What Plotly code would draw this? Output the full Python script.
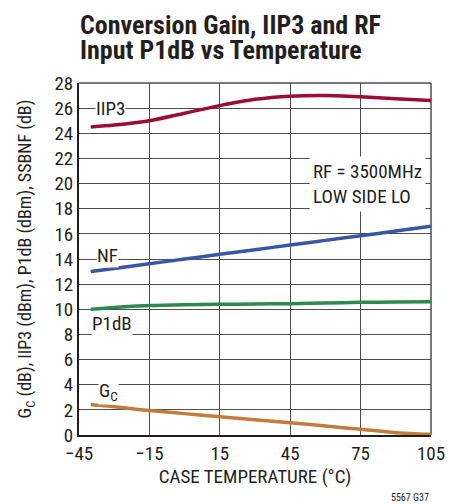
import plotly.graph_objects as go

temps = [-40, -30, -15, 0, 15, 30, 45, 60, 75, 90, 105]
iip3 = [24.5, 24.65, 25.0, 25.6, 26.2, 26.7, 26.95, 27.0, 26.9, 26.75, 26.6]
nf = [13.0, 13.25, 13.62, 14.0, 14.37, 14.74, 15.11, 15.48, 15.85, 16.22, 16.6]
p1db = [10.0, 10.15, 10.3, 10.37, 10.4, 10.42, 10.45, 10.5, 10.55, 10.58, 10.6]
gc = [2.4, 2.25, 1.95, 1.7, 1.46, 1.22, 0.98, 0.72, 0.45, 0.18, 0.05]

x_ticks = [-45, -15, 15, 45, 75, 105]
x_labels = ["\u221245", "\u221215", "15", "45", "75", "105"]
y_ticks = list(range(0, 29, 2))

FONT = "Liberation Sans Narrow, Roboto Condensed, Arial Narrow, Liberation Sans, sans-serif"
INK = "#231f20"
GRID = "#4d4d4d"

fig = go.Figure()
series = [
    (iip3, "#9b0d35", "IIP3"),
    (nf, "#3b55a6", "NF"),
    (p1db, "#2b8a4c", "P1dB"),
    (gc, "#c57b3a", "GC"),
]
for ys, col, name in series:
    fig.add_trace(go.Scatter(x=temps, y=ys, mode="lines", name=name,
                             line=dict(color=col, width=3.5, shape="spline", smoothing=0.8),
                             showlegend=False))

ann_font = dict(family=FONT, size=19, color=INK)
annotations = [
    dict(x=-31.4, y=26, text="IIP3", showarrow=False, bgcolor="white", font=ann_font, borderpad=0),
    dict(x=-33, y=14.25, text="NF", showarrow=False, bgcolor="white", font=ann_font, borderpad=0),
    dict(x=-31, y=8.9, text="P1dB", showarrow=False, bgcolor="white", font=ann_font, borderpad=0),
    dict(x=-32.6, y=3.5, text="G<sub>C</sub>", showarrow=False, bgcolor="white", font=ann_font, borderpad=0),
    dict(x=78, y=20, text="RF = 3500MHz<br>LOW SIDE LO", showarrow=False, bgcolor="white",
         font=ann_font, align="left", borderpad=3),
    dict(xref="paper", yref="paper", x=-0.003, y=1.166, xanchor="left", yanchor="middle",
         text="<b>Conversion Gain, IIP3 and RF</b>", showarrow=False, align="left",
         font=dict(family=FONT, size=26, color=INK)),
    dict(xref="paper", yref="paper", x=-0.003, y=1.095, xanchor="left", yanchor="middle",
         text="<b>Input P1dB vs Temperature</b>", showarrow=False, align="left",
         font=dict(family=FONT, size=26, color=INK)),
    dict(xref="paper", yref="paper", x=1.0, y=-0.178, xanchor="right", yanchor="middle",
         text="5567 G37", showarrow=False, font=dict(family=FONT, size=10, color=INK)),
]

fig.update_layout(
    width=451, height=496,
    margin=dict(l=71, r=28, t=75, b=69),
    paper_bgcolor="white", plot_bgcolor="white",
    annotations=annotations,
    font=dict(family=FONT, size=19, color=INK),
    xaxis=dict(range=[-45, 105], tickvals=x_ticks, ticktext=x_labels,
               showgrid=True, gridcolor=GRID, gridwidth=1,
               showline=True, linecolor=INK, linewidth=2,
               zeroline=False, ticks="",
               title=dict(text="CASE TEMPERATURE (\u00b0C)", font=dict(size=19), standoff=5),
               tickfont=dict(size=19)),
    yaxis=dict(range=[0, 28], tickvals=y_ticks,
               showgrid=True, gridcolor=GRID, gridwidth=1,
               showline=True, linecolor=INK, linewidth=2,
               zeroline=False, ticks="",
               title=dict(text="G<sub>C</sub> (dB), IIP3 (dBm), P1dB (dBm), SSBNF (dB)",
                          font=dict(size=18), standoff=18),
               tickfont=dict(size=19)),
)
fig.add_shape(type="line", xref="paper", yref="paper", x0=1, x1=1, y0=0, y1=1,
              line=dict(color=GRID, width=1.5), layer="below")
fig.add_shape(type="line", xref="paper", yref="paper", x0=0, x1=1, y0=1, y1=1,
              line=dict(color=GRID, width=1.5), layer="below")

fig.write_html("out.html")
